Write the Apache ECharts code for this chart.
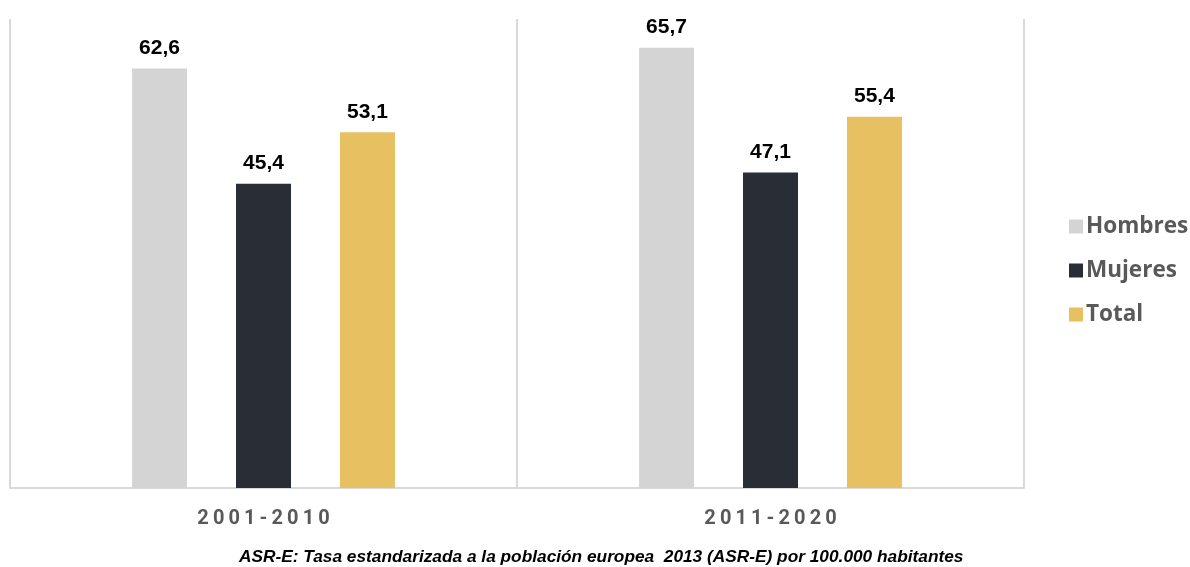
<!DOCTYPE html>
<html>
<head>
<meta charset="utf-8">
<script src="https://cdn.jsdelivr.net/npm/echarts@6/dist/echarts.min.js"></script>
<style>
  html, body { margin: 0; padding: 0; background: #ffffff; }
  #chart { width: 1190px; height: 567px; }
</style>
</head>
<body>
<div id="chart"></div>
<script>
// Periods shown on the category axis
const periods = ['2001-2010', '2011-2020'];

// Rates per 100.000 inhabitants (ASR-E)
const hombres = [62.6, 65.7];
const mujeres = [45.4, 47.1];
const total = [53.1, 55.4];

const seriesNames = ['Hombres', 'Mujeres', 'Total'];
const seriesColors = ['#D4D4D4', '#292D35', '#E7C062'];
const footnote = 'ASR-E: Tasa estandarizada a la población europea  2013 (ASR-E) por 100.000 habitantes';

// Letter-spaced period labels (thin spaces between characters)
const spaced = s => s.split('').join('\u2009');

const chart = echarts.init(document.getElementById('chart'), null, { renderer: 'canvas' });

const labelStyle = {
  show: true,
  position: 'top',
  distance: 10,
  fontFamily: 'Liberation Sans, Arial, sans-serif',
  fontWeight: 'bold',
  fontSize: 21,
  color: '#000000',
  formatter: p => p.value.toFixed(1).replace('.', ',')
};

const makeSeries = (name, data, color) => ({
  name: name,
  type: 'bar',
  data: data,
  barWidth: 55,
  barGap: '89%',
  itemStyle: { color: color },
  label: labelStyle
});

chart.setOption({
  animation: false,
  backgroundColor: '#ffffff',
  grid: { left: 10, right: 166, top: 19, bottom: 79, containLabel: false },
  legend: {
    orient: 'vertical',
    left: 1064,
    top: 210,
    itemWidth: 14,
    itemHeight: 14,
    itemGap: 21,
    icon: 'rect',
    data: seriesNames,
    textStyle: {
      fontFamily: 'Open Sans, Liberation Sans, sans-serif',
      fontWeight: 'bold',
      fontSize: 22.5,
      color: '#595959',
      padding: [0, 0, 0, -2]
    }
  },
  xAxis: {
    type: 'category',
    data: periods,
    axisLine: { show: true, lineStyle: { color: '#D9D9D9', width: 2 } },
    axisTick: { show: false },
    splitLine: { show: true, lineStyle: { color: '#D9D9D9', width: 2 } },
    axisLabel: {
      margin: 21,
      fontFamily: 'Roboto, Liberation Sans, sans-serif',
      fontWeight: 'bold',
      fontSize: 20,
      color: '#595959',
      formatter: v => spaced(v)
    }
  },
  yAxis: {
    type: 'value',
    min: 0,
    max: 70,
    show: false,
    splitLine: { show: false }
  },
  series: [
    makeSeries(seriesNames[0], hombres, seriesColors[0]),
    makeSeries(seriesNames[1], mujeres, seriesColors[1]),
    makeSeries(seriesNames[2], total, seriesColors[2])
  ],
  graphic: [{
    type: 'text',
    left: 239,
    top: 549,
    style: {
      text: footnote,
      fontFamily: 'Liberation Sans, Arial, sans-serif',
      fontStyle: 'italic',
      fontWeight: 'bold',
      fontSize: 17.3,
      fill: '#000000'
    }
  }]
});
</script>
</body>
</html>
